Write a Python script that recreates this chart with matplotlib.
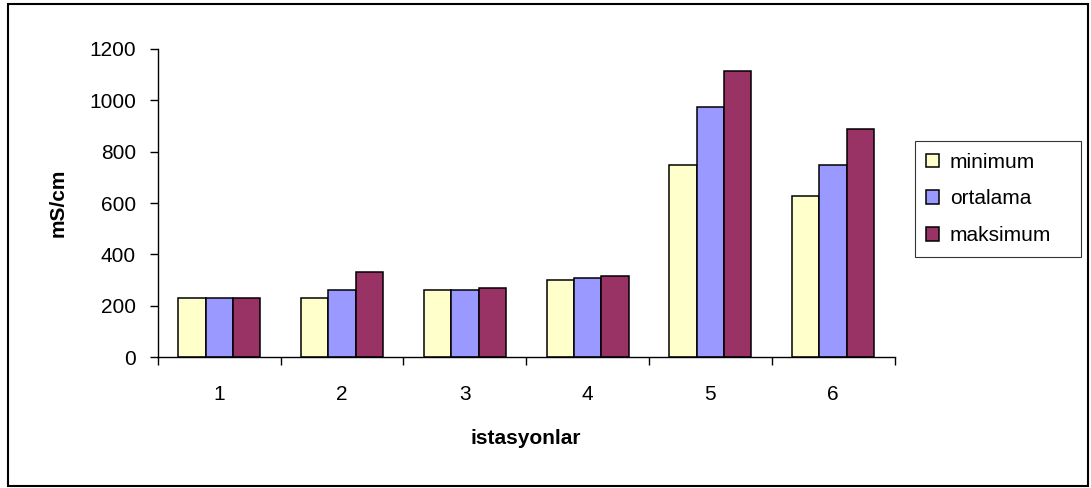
import numpy as np
from matplotlib import pyplot as plt
from matplotlib.patches import Rectangle

# istasyonlar, values in mS/cm
stations = ['1', '2', '3', '4', '5', '6']
minimum = [230, 230, 262, 302, 748, 626]
ortalama = [230, 262, 262, 308, 973, 748]
maksimum = [230, 333, 269, 317, 1113, 889]

plt.rcParams['font.family'] = ['Liberation Sans', 'DejaVu Sans']

fig = plt.figure(figsize=(10.91, 4.88), dpi=100)
ax = fig.add_axes([0.1448, 0.2678, 0.8199 - 0.1448, 0.9002 - 0.2678])

x = np.arange(1, len(stations) + 1)
width = 1 / 4.5

ax.bar(x - width, minimum, width, color='#FFFFCC', edgecolor='black', linewidth=1.1, label='minimum')
ax.bar(x, ortalama, width, color='#9999FF', edgecolor='black', linewidth=1.1, label='ortalama')
ax.bar(x + width, maksimum, width, color='#993366', edgecolor='black', linewidth=1.1, label='maksimum')

ax.set_xlim(0.5, len(stations) + 0.5)
ax.set_ylim(0, 1200)
ax.set_yticks(np.arange(0, 1201, 200))

# category ticks between groups, labels in the middle
ax.set_xticks(np.arange(0.5, len(stations) + 1, 1))
ax.set_xticklabels([])
ax.set_xticks(x, minor=True)
ax.set_xticklabels(stations, minor=True)
ax.tick_params(axis='x', which='major', direction='out', length=6, width=1, color='black')
ax.tick_params(axis='x', which='minor', length=0, pad=20, labelsize=15)
ax.tick_params(axis='y', direction='out', length=6, width=1, labelsize=15, pad=10)

for s in ['top', 'right']:
    ax.spines[s].set_visible(False)
for s in ['left', 'bottom']:
    ax.spines[s].set_linewidth(1.0)

ax.set_ylabel('mS/cm', fontsize=15, fontweight='bold')
ax.yaxis.set_label_coords((58 - 158) / 736, 0.5)
ax.yaxis.label.set_va('center')
ax.set_xlabel('istasyonlar', fontsize=15, fontweight='bold')
ax.xaxis.set_label_coords(0.5, (357.3 - 438) / 308.6)
ax.xaxis.label.set_va('center')

leg = ax.legend(loc='center left', bbox_to_anchor=(915 / 1091, (488 - 258) / 488, 166 / 1091, 118 / 488),
                bbox_transform=fig.transFigure, mode='expand', fontsize=15, frameon=True, fancybox=False,
                edgecolor='black', handlelength=0.62, handleheight=0.62, handletextpad=0.5,
                labelspacing=0.85, borderpad=0.55, borderaxespad=0)
leg.get_frame().set_linewidth(0.8)

# outer chart border
fig.patches.append(Rectangle((8 / 1091, 2 / 488), 1080 / 1091, 482 / 488, transform=fig.transFigure,
                             fill=False, edgecolor='black', linewidth=1.5))

fig.savefig('out.png', dpi=100)
